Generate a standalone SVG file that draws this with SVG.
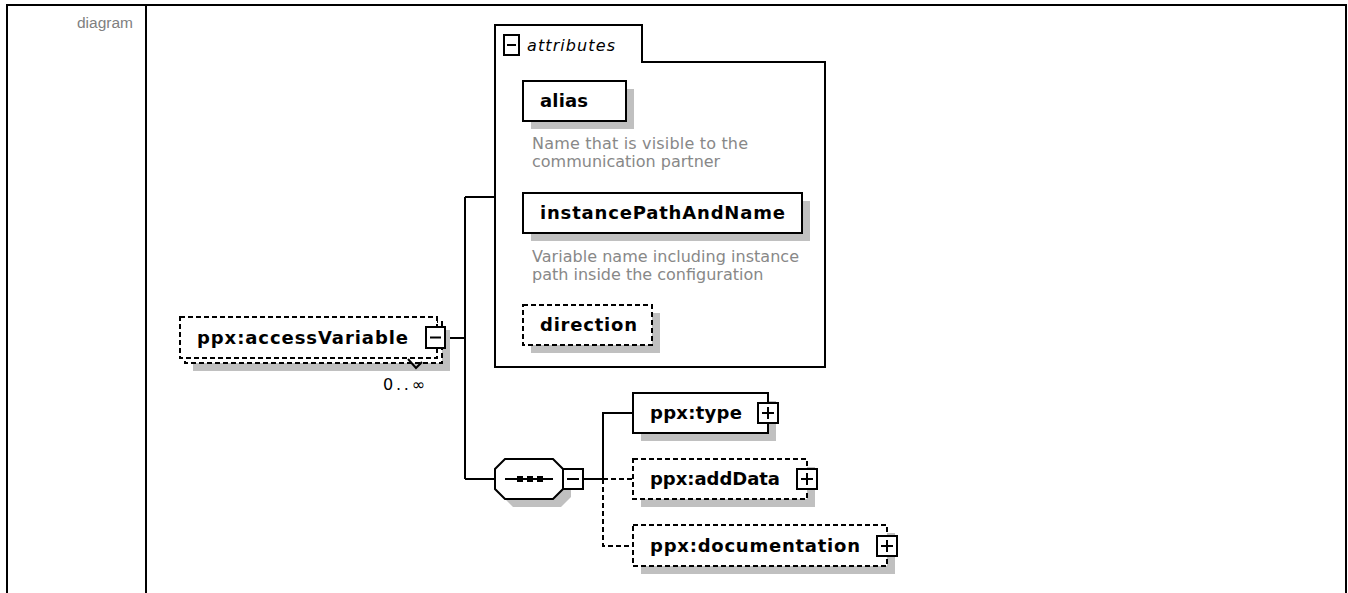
<svg xmlns="http://www.w3.org/2000/svg" width="1348" height="593" viewBox="0 0 1348 593">
<style>
.frame{stroke:#000;stroke-width:2;fill:none}
.box{fill:#fff;stroke:#000;stroke-width:2}
.opt{stroke-dasharray:5,3}
.shadow{fill:#c0c0c0}
.lbl{font-family:"DejaVu Sans",Verdana,sans-serif;font-weight:bold;font-size:18px;fill:#000}
.desc{font-family:"DejaVu Sans",Verdana,sans-serif;font-size:16px;fill:#888}
.ital{font-family:"DejaVu Sans",Verdana,sans-serif;font-style:italic;font-size:16px;fill:#000}
.conn{stroke:#000;stroke-width:2;fill:none}
.sym{fill:#fff;stroke:#000;stroke-width:2}
.symline{stroke:#000;stroke-width:2;fill:none}
</style>
<rect x="0" y="0" width="1348" height="593" fill="#fff"/>
<g id="frame">
<path class="frame" d="M7,593 V5 H1346 V593 M146,5 V593"/>
<text x="133" y="28" text-anchor="end" font-family="Liberation Sans, Arial, sans-serif" font-size="15.5" fill="#808080">diagram</text>
</g>
<g id="connectors">
<path class="conn" d="M446,338 H465 M465,197 V479 M465,197 H495 M465,479 H495"/>
<path class="conn" d="M583,479 H603 M603,479 V413 H633"/>
<path class="conn opt" d="M603,479 H633 M603,479 V546 H633"/>
</g>
<g id="accessVariable">
<rect class="shadow" x="193" y="330" width="257" height="41"/>
<rect class="box opt" x="185" y="322" width="257" height="41"/>
<rect class="box opt" x="180" y="317" width="257" height="41"/>
<text class="lbl" x="197" y="344" textLength="211">ppx:accessVariable</text>
<rect class="sym" x="426" y="327" width="19" height="21"/>
<path class="symline" d="M430,337.5 H441"/>
<polyline class="symline" stroke-width="1.5" points="408,359 416,368 422,362"/>
<text x="383" y="390" textLength="42" font-family="DejaVu Sans, Verdana, sans-serif" font-size="16" fill="#000">0..∞</text>
</g>
<g id="attributes">
<path class="box" d="M495,367 V25 H642 V62 H825 V367 Z"/>
<rect class="sym" x="504" y="35" width="15" height="20"/>
<path class="symline" d="M507,45 H516"/>
<text class="ital" x="527" y="51" textLength="88">attributes</text>
</g>
<g id="alias">
<rect class="shadow" x="531" y="89" width="103" height="40"/>
<rect class="box" x="523" y="81" width="103" height="40"/>
<text class="lbl" x="540" y="107" textLength="48">alias</text>
<text class="desc" x="532" y="149" textLength="216">Name that is visible to the</text>
<text class="desc" x="532" y="167">communication partner</text>
</g>
<g id="instancePathAndName">
<rect class="shadow" x="531" y="201" width="279" height="40"/>
<rect class="box" x="523" y="193" width="279" height="40"/>
<text class="lbl" x="540" y="219" textLength="245">instancePathAndName</text>
<text class="desc" x="532" y="262" textLength="267">Variable name including instance</text>
<text class="desc" x="532" y="280">path inside the configuration</text>
</g>
<g id="direction">
<rect class="shadow" x="531" y="313" width="129" height="40"/>
<rect class="box opt" x="523" y="305" width="129" height="40"/>
<text class="lbl" x="540" y="331" textLength="97">direction</text>
</g>
<g id="sequence">
<polygon class="shadow" points="513,467 561,467 571,477 571,497 561,507 513,507 503,497 503,477"/>
<polygon class="box" points="505,459 553,459 563,469 563,489 553,499 505,499 495,489 495,469"/>
<path class="symline" d="M505,479 H553"/>
<rect x="517" y="476" width="6" height="6" fill="#000"/>
<rect x="527" y="476" width="6" height="6" fill="#000"/>
<rect x="537" y="476" width="6" height="6" fill="#000"/>
<rect class="sym" x="563" y="469" width="20" height="20"/>
<path class="symline" d="M567,479 H579"/>
</g>
<g id="type">
<rect class="shadow" x="641" y="401" width="135" height="40"/>
<rect class="box" x="633" y="393" width="135" height="40"/>
<text class="lbl" x="650" y="419" textLength="92">ppx:type</text>
<rect class="sym" x="758" y="403" width="20" height="20"/>
<path class="symline" d="M762,413 H774 M768,407 V419"/>
</g>
<g id="addData">
<rect class="shadow" x="641" y="467" width="174" height="40"/>
<rect class="box opt" x="633" y="459" width="174" height="40"/>
<text class="lbl" x="650" y="485" textLength="130">ppx:addData</text>
<rect class="sym" x="797" y="469" width="20" height="20"/>
<path class="symline" d="M801,479 H813 M807,473 V485"/>
</g>
<g id="documentation">
<rect class="shadow" x="641" y="533" width="254" height="41"/>
<rect class="box opt" x="633" y="525" width="254" height="41"/>
<text class="lbl" x="650" y="552" textLength="210">ppx:documentation</text>
<rect class="sym" x="877" y="536" width="20" height="20"/>
<path class="symline" d="M881,546 H893 M887,540 V552"/>
</g>
</svg>
